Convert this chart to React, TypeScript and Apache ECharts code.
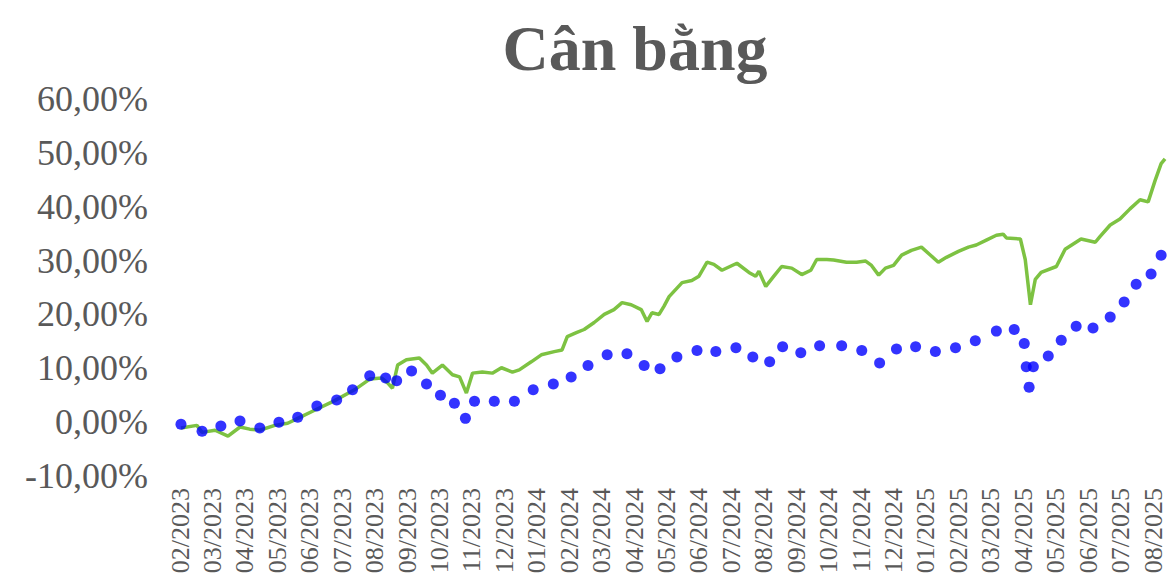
import React, { useEffect, useRef } from "react";
import * as echarts from "echarts";

const monthLabels = [
  "02/2023", "03/2023", "04/2023", "05/2023", "06/2023", "07/2023", "08/2023", "09/2023",
  "10/2023", "11/2023", "12/2023", "01/2024", "02/2024", "03/2024", "04/2024", "05/2024",
  "06/2024", "07/2024", "08/2024", "09/2024", "10/2024", "11/2024", "12/2024", "01/2025",
  "02/2025", "03/2025", "04/2025", "05/2025", "06/2025", "07/2025", "08/2025",
];

// x positions in months since 02/2023
const greenX = [
  0.03, 0.52, 0.68, 1.08, 1.48, 1.85, 2.15, 2.46, 2.92, 3.32, 3.63, 4.15, 4.77, 5.38, 5.85,
  6.22, 6.4, 6.55, 6.71, 6.98, 7.38, 7.6, 7.78, 8.09, 8.4, 8.62, 8.83, 9.02, 9.32, 9.63,
  9.91, 10.25, 10.46, 10.83, 11.14, 11.54, 11.78, 11.94, 12.22, 12.46, 12.77, 13.08, 13.38,
  13.63, 13.91, 14.22, 14.4, 14.55, 14.77, 14.92, 15.08, 15.48, 15.78, 16.0, 16.25, 16.46,
  16.71, 17.17, 17.54, 17.75, 17.85, 18.06, 18.31, 18.55, 18.86, 19.17, 19.45, 19.63, 19.94,
  20.15, 20.55, 20.86, 21.14, 21.32, 21.54, 21.75, 22.0, 22.25, 22.55, 22.86, 23.14, 23.38,
  23.63, 24.0, 24.31, 24.55, 24.86, 25.17, 25.38, 25.48, 25.91, 26.06, 26.22, 26.37, 26.55,
  27.02, 27.29, 27.78, 28.22, 28.37, 28.68, 28.98, 29.29, 29.6, 29.85, 30.06, 30.25, 30.37,
];
const greenY = [
  -1.1, -0.6, -1.9, -1.5, -2.6, -0.9, -1.3, -1.5, -0.6, -0.2, 0.7, 2.2, 4.0, 6.0, 8.0,
  8.2, 7.3, 6.3, 10.6, 11.6, 11.9, 10.6, 9.1, 10.6, 8.8, 8.4, 5.4, 9.1, 9.3, 9.1,
  10.1, 9.3, 9.7, 11.2, 12.5, 13.1, 13.4, 15.9, 16.6, 17.2, 18.5, 20.0, 20.9,
  22.2, 21.8, 20.9, 18.7, 20.3, 20.0, 21.5, 23.3, 25.9, 26.3, 27.1, 29.7, 29.3,
  28.2, 29.5, 27.8, 27.1, 28.0, 25.2, 27.1, 28.9, 28.6, 27.4, 28.2, 30.2, 30.2,
  30.1, 29.7, 29.7, 29.9, 29.1, 27.3, 28.6, 29.1, 31.0, 31.9, 32.5, 31.0, 29.7,
  30.6, 31.7, 32.5, 32.9, 33.8, 34.7, 34.9, 34.2, 34.0, 30.2, 21.8, 26.5, 27.8,
  28.9, 32.1, 34.0, 33.4, 34.5, 36.6, 37.7, 39.6, 41.3, 40.9, 44.8, 48.0, 48.9,
];

const blueX = [
  0.03, 0.68, 1.26, 1.85, 2.46, 3.05, 3.63, 4.22, 4.83, 5.32, 5.85, 6.34, 6.68, 7.14, 7.6,
  8.03, 8.46, 8.8, 9.08, 9.69, 10.31, 10.89, 11.51, 12.06, 12.58, 13.17, 13.78, 14.31, 14.8,
  15.32, 15.94, 16.52, 17.14, 17.66, 18.18, 18.58, 19.14, 19.72, 20.4, 21.02, 21.57, 22.09,
  22.68, 23.29, 23.91, 24.52, 25.17, 25.72, 26.03, 26.09, 26.31, 26.18, 26.77, 27.17, 27.63,
  28.15, 28.68, 29.11, 29.48, 29.94, 30.25,
];
const blueY = [
  -0.4, -1.7, -0.7, 0.2, -1.1, 0.0, 0.9, 3.0, 4.1, 6.0, 8.6, 8.2, 7.7, 9.5, 7.1,
  5.0, 3.5, 0.7, 3.9, 3.9, 3.9, 6.0, 7.1, 8.4, 10.5, 12.5, 12.7, 10.5, 9.9,
  12.1, 13.3, 13.1, 13.8, 12.1, 11.2, 14.0, 12.9, 14.2, 14.2, 13.3, 11.0, 13.6,
  14.0, 13.1, 13.8, 15.1, 16.9, 17.2, 14.6, 10.3, 10.3, 6.5, 12.3, 15.2, 17.8,
  17.5, 19.5, 22.3, 25.6, 27.5, 31.0,
];

const TEXT = "#595959";
const SERIF = '"Liberation Serif", "Times New Roman", serif';

export default function App() {
  const ref = useRef<HTMLDivElement>(null);

  useEffect(() => {
    if (!ref.current) return;
    const chart = echarts.init(ref.current, null, { renderer: "svg" });
    const option = {
      animation: false,
      backgroundColor: "#ffffff",
      graphic: [
        {
          type: "text",
          x: 635,
          y: 48,
          style: {
            text: "Cân bằng",
            fontFamily: SERIF,
            fontSize: 64,
            fontWeight: "bold",
            fill: TEXT,
            align: "center",
            verticalAlign: "middle",
          },
        },
      ],
      grid: {
        left: 180,
        top: 99,
        width: 986,
        height: 377,
        containLabel: false,
        outerBoundsMode: "none",
      },
      xAxis: {
        type: "value",
        min: 0,
        max: 30.4,
        interval: 1,
        axisLine: { show: false },
        axisTick: { show: false },
        splitLine: { show: false },
        axisLabel: {
          rotate: 90,
          margin: 12,
          fontFamily: SERIF,
          fontSize: 26,
          lineHeight: 22,
          color: TEXT,
          showMaxLabel: false,
          formatter: (v: number) => monthLabels[Math.round(v)] ?? "",
        },
      },
      yAxis: {
        type: "value",
        min: -10,
        max: 60,
        interval: 10,
        axisLine: { show: false },
        axisTick: { show: false },
        splitLine: { show: false },
        axisLabel: {
          margin: 32,
          fontFamily: SERIF,
          fontSize: 36,
          color: TEXT,
          formatter: (v: number) => v.toFixed(2).replace(".", ",") + "%",
        },
      },
      series: [
        {
          type: "line",
          data: greenX.map((x, i) => [x, greenY[i]]),
          showSymbol: false,
          symbol: "none",
          clip: false,
          lineStyle: { color: "#7DC242", width: 3.5 },
          z: 2,
        },
        {
          type: "scatter",
          data: blueX.map((x, i) => [x, blueY[i]]),
          symbolSize: 11,
          clip: false,
          itemStyle: { color: "#0000FF" },
          z: 3,
        },
      ],
    };
    chart.setOption(option);
    return () => chart.dispose();
  }, []);

  return (
    <div
      ref={ref}
      style={{ position: "fixed", left: 0, top: 0, width: 1167, height: 579, background: "#fff" }}
    />
  );
}
